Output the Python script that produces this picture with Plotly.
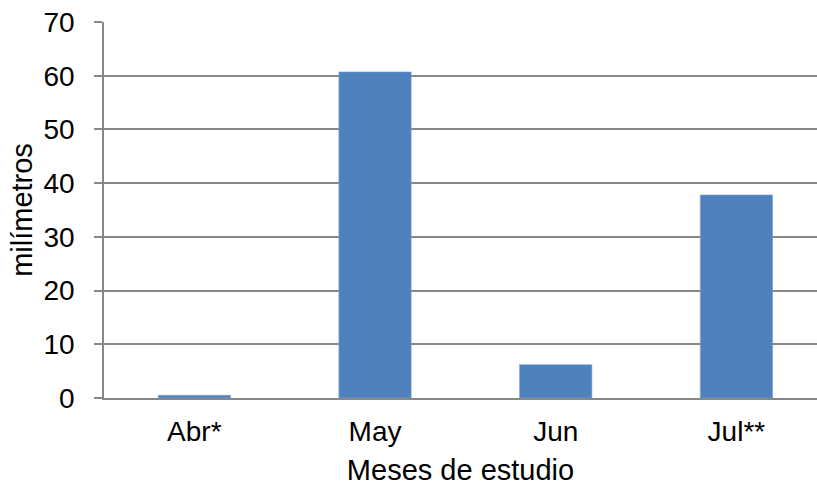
import plotly.graph_objects as go

# datos
meses = ["Abr*", "May", "Jun", "Jul**"]
precipitacion = [0.5, 60.7, 6.2, 37.8]

FUENTE = "Liberation Sans, Arial, sans-serif"
GRIS = "#878787"

fig = go.Figure(go.Bar(
    x=meses,
    y=precipitacion,
    marker=dict(color="#4F81BD", line=dict(color="#7AA0D0", width=0.6)),
    width=0.4,
))

fig.update_layout(
    width=817, height=486,
    margin=dict(l=104, r=0, t=22, b=88),
    paper_bgcolor="white",
    plot_bgcolor="white",
    font=dict(family=FUENTE, size=28, color="black"),
    showlegend=False,
    xaxis=dict(
        # el gráfico original está recortado por la derecha
        range=[-0.5, 3.446],
        showline=True, linecolor=GRIS, linewidth=1.5,
        ticks="", showgrid=False,
        tickfont=dict(size=28),
        ticklabelstandoff=8,
        title=dict(text="Meses de estudio", font=dict(size=29), standoff=14),
    ),
    yaxis=dict(
        range=[0, 70], dtick=10,
        showline=True, linecolor=GRIS, linewidth=1.5,
        ticks="outside", ticklen=8, tickcolor=GRIS, tickwidth=1.5,
        showgrid=True, gridcolor=GRIS, gridwidth=1.5,
        zeroline=False,
        tickfont=dict(size=28),
        ticklabelstandoff=14,
        title=dict(text="milímetros", font=dict(size=29), standoff=2),
    ),
)

# sin margen del body para que el gráfico ocupe la ventana exacta
fig.write_html("out.html", config={"displayModeBar": False},
               post_script="document.body.style.margin='0';")
